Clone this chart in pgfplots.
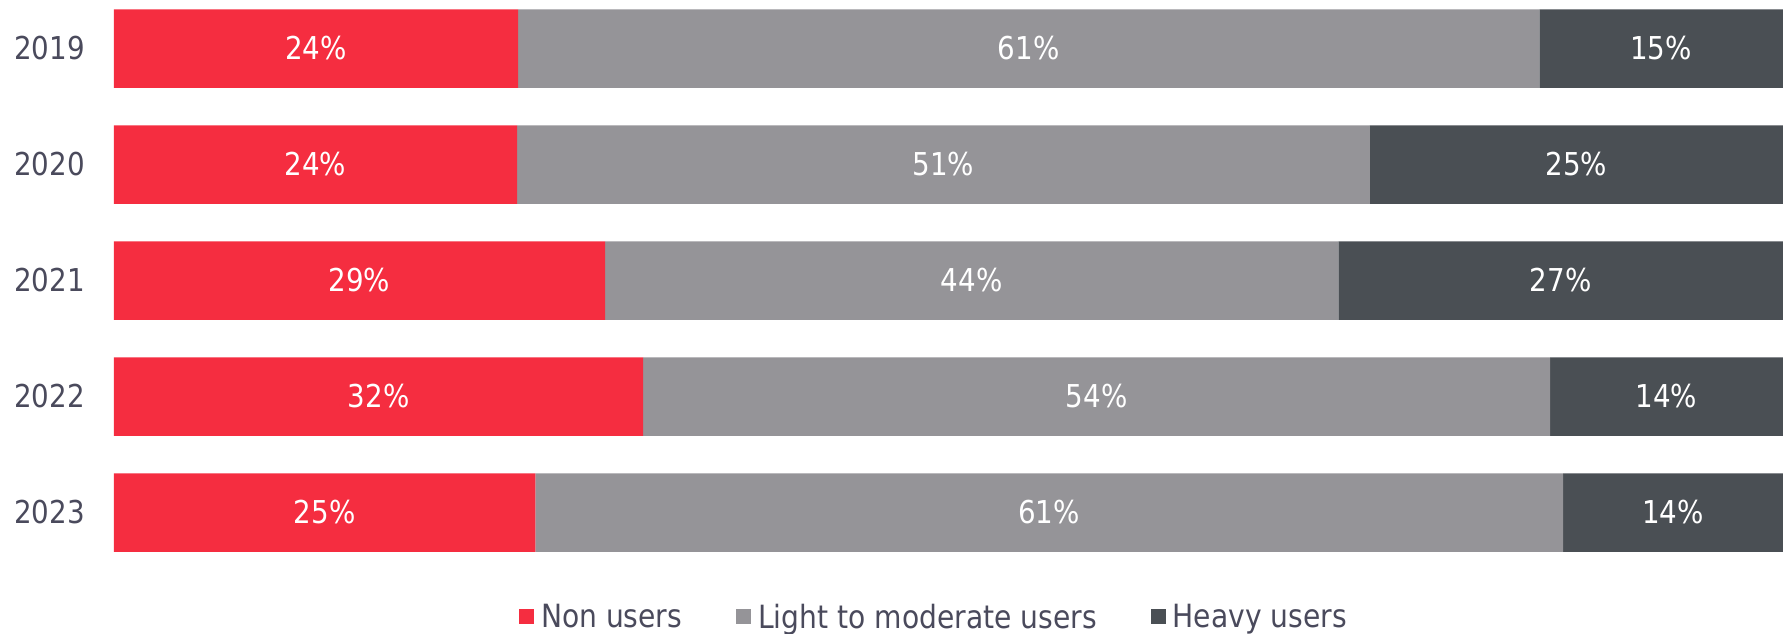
\documentclass[border=0pt]{standalone}
\usepackage{pgfplots}
\pgfplotsset{compat=1.18}
\usepackage{pgfplotstable}
\usepackage{fontspec}
\setmainfont{DejaVu Sans}[FakeStretch=0.88]
\definecolor{cRed}{HTML}{F52D40}
\definecolor{cGray}{HTML}{959498}
\definecolor{cDark}{HTML}{4A4F54}
\definecolor{cText}{HTML}{4A4A5C}
\pgfplotstableread{
pos non light heavy lnon llight lheavy
0 24.22 61.18 14.60 24 61 15
1 24.15 51.10 24.75 24 51 25
2 29.42 43.94 26.64 29 44 27
3 31.71 54.33 13.96 32 54 14
4 25.24 61.58 13.18 25 61 14
}\datatable
\newcommand{\bigfont}{\fontsize{31.5pt}{36pt}\selectfont}
\newcommand{\legfont}{\fontsize{32pt}{36pt}\selectfont}
\begin{document}
\begin{tikzpicture}
\pgfplotsset{
  base/.style={
    at={(0pt,0pt)}, anchor=north west,
    scale only axis, width=1669pt, height=558.9pt,
    xmin=0, xmax=100, ymin=-0.418, ymax=4.4, y dir=reverse,
    axis line style={draw=none}, tick style={draw=none},
    xtick=\empty,
  }
}
\path (-114pt,0pt) rectangle (1669pt,-632pt);
\begin{axis}[base, xbar stacked, bar width=78.5pt,
  ytick={0,1,2,3,4}, yticklabels={2019,2020,2021,2022,2023},
  yticklabel style={font=\bigfont, text=cText, anchor=east, inner sep=0pt, xshift=-29pt},
  legend style={at={(0.4913,0)}, anchor=center, yshift=-58pt, draw=none, fill=none,
    font=\legfont, text=cText, legend columns=3,
    /tikz/every even column/.append style={column sep=52pt}},
  legend cell align=left,
  legend image code/.code={\fill[#1] (0pt,-7.5pt) rectangle (15pt,7.5pt); \path (20pt,0pt);},
]
\addplot[fill=cRed, draw=none] table[x=non, y=pos]{\datatable};
\addlegendentry{Non users}
\addplot[fill=cGray, draw=none] table[x=light, y=pos]{\datatable};
\addlegendentry{Light to moderate users}
\addplot[fill=cDark, draw=none] table[x=heavy, y=pos]{\datatable};
\addlegendentry{Heavy users}
\end{axis}
\begin{axis}[base, hide axis, clip=false,
  nodes near coords={\pgfmathprintnumber[assume math mode=true]{\pgfplotspointmeta}\%},
  nodes near coords style={text=white, font=\bigfont, anchor=center},
]
\addplot[draw=none, mark=none, point meta=\thisrow{lnon}] table[x expr=\thisrow{non}/2, y=pos]{\datatable};
\addplot[draw=none, mark=none, point meta=\thisrow{llight}] table[x expr=\thisrow{non}+\thisrow{light}/2, y=pos]{\datatable};
\addplot[draw=none, mark=none, point meta=\thisrow{lheavy}] table[x expr=\thisrow{non}+\thisrow{light}+\thisrow{heavy}/2, y=pos]{\datatable};
\end{axis}
\end{tikzpicture}
\end{document}
